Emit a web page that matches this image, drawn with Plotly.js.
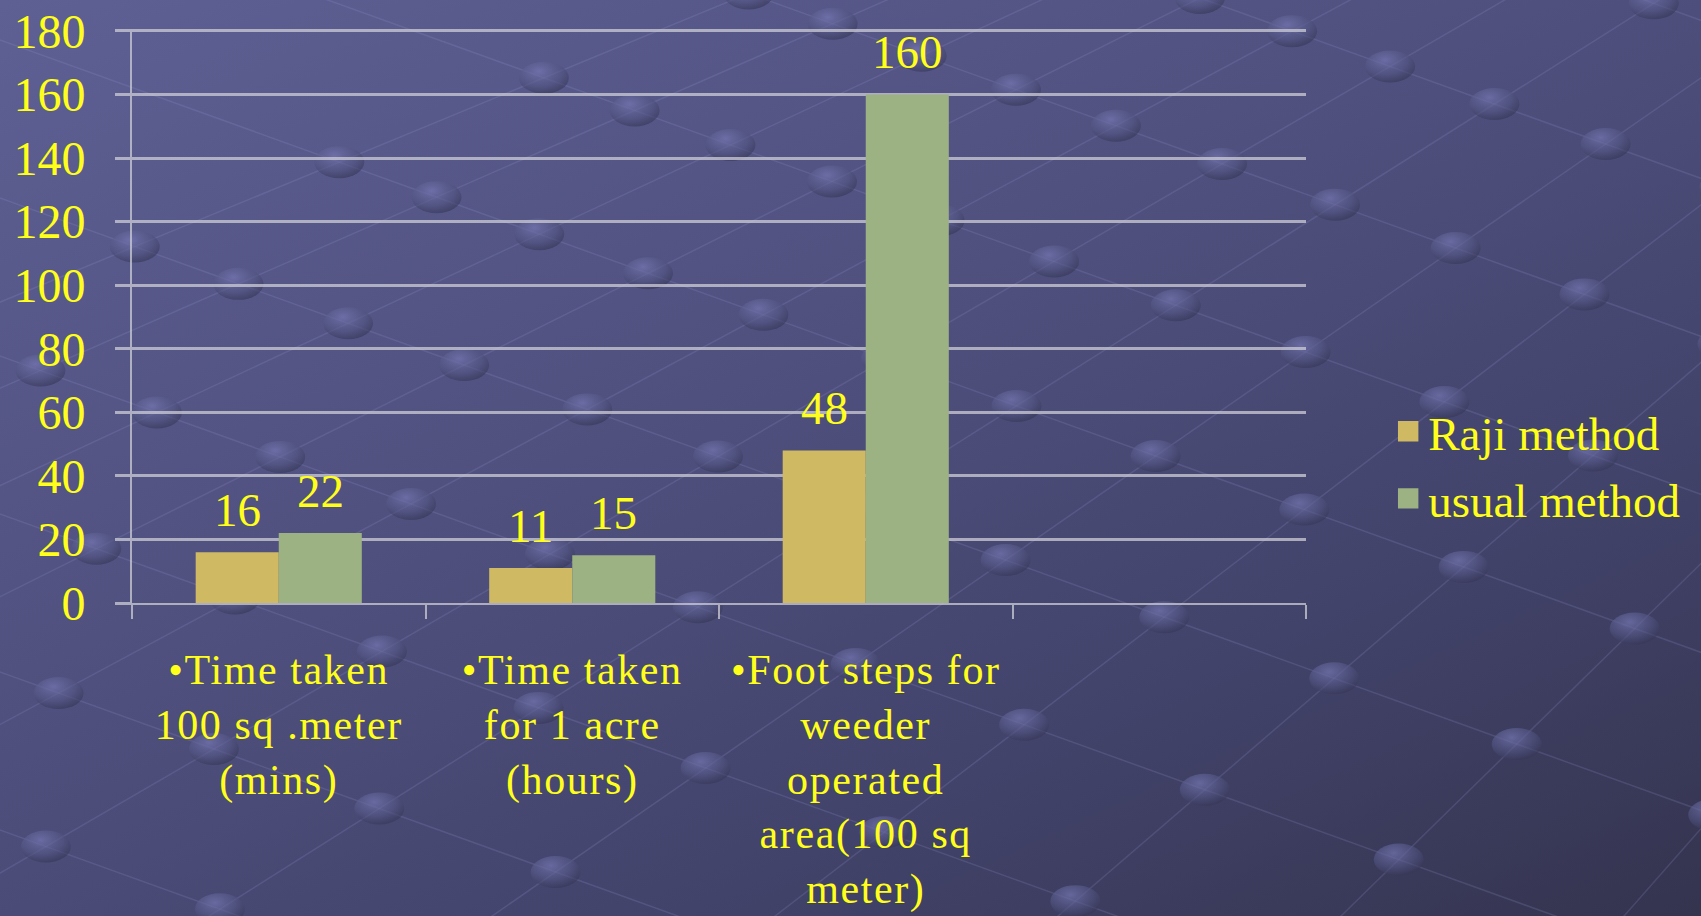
<!DOCTYPE html>
<html>
<head>
<meta charset="utf-8">
<script src="https://cdn.plot.ly/plotly-3.0.1.min.js"></script>
<style>
  html, body { margin: 0; padding: 0; width: 1701px; height: 916px; overflow: hidden; }
  body { background: linear-gradient(155deg, #5e6094 0%, #50517f 40%, #43446c 70%, #34344f 100%); position: relative; }
  #bg { position: absolute; left: 0; top: 0; width: 1701px; height: 916px; z-index: 0; }
  #chart { position: absolute; left: 0; top: 0; width: 1701px; height: 916px; z-index: 1; }
  #chart .xtick text { letter-spacing: 1.6px; }
</style>
</head>
<body>
<svg id="bg" xmlns="http://www.w3.org/2000/svg" width="1701" height="916"></svg>
<div id="chart"></div>
<script>
const categories = [
  "•Time taken<br>100 sq .meter<br>(mins)",
  "•Time taken<br>for 1 acre<br>(hours)",
  "•Foot steps for<br>weeder<br>operated<br>area(100 sq<br>meter)",
  " "
];
const seriesNames = ["Raji method", "usual method"];
const rajiValues = [16, 11, 48, null];
const usualValues = [22, 15, 160, null];
const yTickValues = [0, 20, 40, 60, 80, 100, 120, 140, 160, 180];

// ---------- decorative slide background (not chart data) ----------
(function drawBackground() {
  const svg = document.getElementById("bg");
  const NS = "http://www.w3.org/2000/svg";
  const W = 1701, H = 916;
  let defs = document.createElementNS(NS, "defs");
  defs.innerHTML =
    '<radialGradient id="dot" cx="40%" cy="30%" r="75%">' +
    '<stop offset="0%" stop-color="rgba(118,120,180,0.7)"/>' +
    '<stop offset="60%" stop-color="rgba(82,84,130,0.6)"/>' +
    '<stop offset="100%" stop-color="rgba(50,50,80,0.6)"/></radialGradient>';
  svg.appendChild(defs);
  const VP = [3400, -1100];
  const slopeB = 0.36;
  const linesA = [], linesB = [];
  for (let k = -4; k < 10; k++) linesA.push(-450 + k * 290);
  for (let k = -10; k < 9; k++) linesB.push(40 + k * 158);
  const g = document.createElementNS(NS, "g");
  const lineStyle = "stroke:rgba(150,150,210,0.2);stroke-width:1.5";
  linesA.forEach(xb => {
    const l = document.createElementNS(NS, "line");
    l.setAttribute("x1", xb); l.setAttribute("y1", H + 50);
    l.setAttribute("x2", VP[0]); l.setAttribute("y2", VP[1]);
    l.setAttribute("style", lineStyle); g.appendChild(l);
  });
  linesB.forEach(y0 => {
    const l = document.createElementNS(NS, "line");
    l.setAttribute("x1", -50); l.setAttribute("y1", y0 - 50 * slopeB);
    l.setAttribute("x2", W + 50); l.setAttribute("y2", y0 + (W + 50) * slopeB);
    l.setAttribute("style", lineStyle); g.appendChild(l);
  });
  svg.appendChild(g);
  const ge = document.createElementNS(NS, "g");
  linesA.forEach(xb => {
    const x1 = xb, y1 = H + 50;
    const dx = VP[0] - x1, dy = VP[1] - y1;
    linesB.forEach(y0 => {
      const t = (y0 + x1 * slopeB - y1) / (dy - dx * slopeB);
      const x = x1 + t * dx, y = y1 + t * dy;
      if (x < -40 || x > W + 40 || y < -30 || y > H + 30) return;
      const e = document.createElementNS(NS, "ellipse");
      e.setAttribute("cx", x); e.setAttribute("cy", y);
      e.setAttribute("rx", 25); e.setAttribute("ry", 16);
      e.setAttribute("fill", "url(#dot)");
      ge.appendChild(e);
    });
  });
  svg.appendChild(ge);
})();

// ---------- chart ----------
const yellow = "#ffff1a";
const gridCol = "rgba(205,205,215,0.75)";
const serif = "'Liberation Serif', 'Times New Roman', serif";

const colors = ["#cfba63", "#9cb283"];
const allValues = [rajiValues, usualValues];

const traces = allValues.map((vals, i) => ({
  type: "bar",
  name: seriesNames[i],
  legendgroup: "g" + i,
  x: categories,
  y: vals,
  marker: { color: colors[i], line: { width: 0 } },
  hoverinfo: "x+y"
}));

const annotations = [];
const shifts = [-41.5, 41.5];
allValues.forEach((vals, i) => {
  vals.forEach((v, j) => {
    if (v === null) return;
    annotations.push({
      x: categories[j], y: v, xref: "x", yref: "y",
      text: String(v), showarrow: false,
      xshift: shifts[i], yanchor: "bottom", yshift: 14,
      font: { family: serif, size: 47, color: yellow }
    });
  });
});

const layout = {
  width: 1701, height: 916,
  margin: { l: 132, r: 395, t: 29, b: 313 },
  paper_bgcolor: "rgba(0,0,0,0)",
  plot_bgcolor: "rgba(0,0,0,0)",
  barmode: "group",
  bargap: 0.434,
  bargroupgap: 0,
  font: { family: serif, color: yellow },
  showlegend: true,
  legend: {
    x: 1.07, xanchor: "left", y: 0.24, yanchor: "middle",
    bgcolor: "rgba(0,0,0,0)",
    tracegroupgap: 3,
    font: { family: serif, size: 47, color: yellow }
  },
  xaxis: {
    type: "category",
    tickson: "boundaries",
    ticks: "outside", ticklen: 14, tickwidth: 2, tickcolor: gridCol,
    showline: true, linecolor: gridCol, linewidth: 2,
    showgrid: false,
    tickfont: { family: serif, size: 42, color: yellow },
    ticklabelstandoff: 29
  },
  yaxis: {
    range: [0, 180.6],
    tickmode: "array", tickvals: yTickValues, ticktext: yTickValues.map(String),
    showgrid: true, gridcolor: gridCol, gridwidth: 3,
    ticks: "outside", ticklen: 15, tickwidth: 3, tickcolor: gridCol,
    showline: true, linecolor: gridCol, linewidth: 2,
    zeroline: false,
    tickfont: { family: serif, size: 48, color: yellow },
    ticklabelstandoff: 20
  },
  annotations: annotations
};

Plotly.newPlot("chart", traces, layout, { displayModeBar: false, staticPlot: true }).then(gd => {
  gd.querySelectorAll(".legend .legendpoints path").forEach(p => {
    const t = p.getAttribute("transform") || "";
    p.setAttribute("transform", t + " scale(1.7)");
  });
});
</script>
</body>
</html>
